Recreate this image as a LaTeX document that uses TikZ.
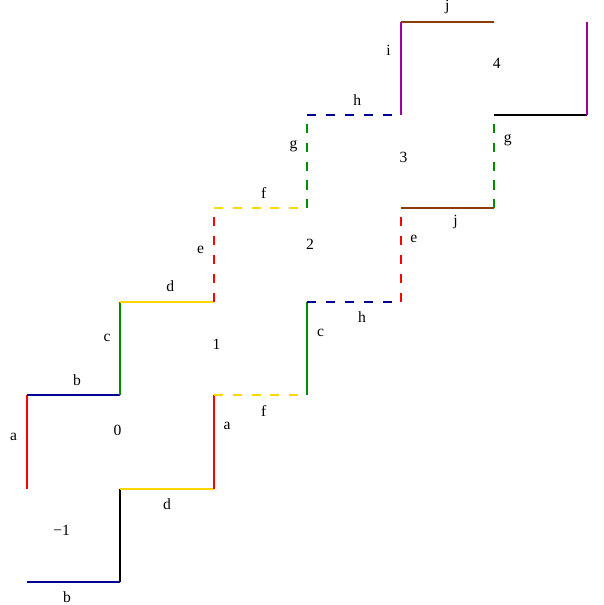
\documentclass[tikz,border=0pt]{standalone}
\usepackage{fontspec}
\setmainfont{Liberation Serif}
\usetikzlibrary{positioning}
\definecolor{edgered}{RGB}{255,0,0}
\definecolor{edgeblue}{RGB}{0,0,150}
\definecolor{edgegreen}{RGB}{0,140,0}
\definecolor{edgeyellow}{RGB}{255,215,0}
\definecolor{edgebrown}{RGB}{140,60,10}
\definecolor{edgepurple}{RGB}{160,0,160}
\begin{document}
\begin{tikzpicture}[x=2cm, y=2cm,
    font=\fontsize{9.5}{11}\selectfont,
    seg/.style={line width=1.2pt},
    gap/.style={seg, dash pattern=on 5.5pt off 6pt},
    lbl/.style={text=black, inner sep=0pt, outer sep=6pt},
    region/.style={inner sep=0pt},
  ]
    \useasboundingbox (-0.289,-0.246) rectangle (6.167,6.231);

    % grid points
    \foreach \i in {0,...,6}
      \foreach \j in {0,...,6}
        \coordinate (p\i\j) at (\i,\j);

    % lower staircase
    \draw[seg,edgeblue]   (p00) -- (p10) node[lbl,midway,below,xshift=-4pt]{b};
    \draw[seg,black]      (p10) -- (p11);
    \draw[seg,edgeyellow] (p11) -- (p21) node[lbl,midway,below]{d};
    \draw[seg,edgered]    (p21) -- (p22) node[lbl,pos=0.67,right]{a};
    \draw[gap,edgeyellow] (p22) -- (p32) node[lbl,midway,below,xshift=2pt]{f};
    \draw[seg,edgegreen]  (p32) -- (p33) node[lbl,pos=0.67,right]{c};
    \draw[gap,edgeblue]   (p33) -- (p43) node[lbl,midway,below,xshift=5pt]{h};
    \draw[gap,edgered]    (p43) -- (p44) node[lbl,pos=0.67,right]{e};
    \draw[seg,edgebrown]  (p44) -- (p54) node[lbl,midway,below,xshift=5pt,outer sep=4pt]{j};
    \draw[gap,edgegreen]  (p54) -- (p55) node[lbl,pos=0.73,right]{g};
    \draw[seg,black]      (p55) -- (p65);
    \draw[seg,edgepurple] (p65) -- (p66);

    % upper staircase
    \draw[seg,edgered]    (p01) -- (p02) node[lbl,pos=0.55,left]{a};
    \draw[seg,edgeblue]   (p02) -- (p12) node[lbl,midway,above,xshift=2pt]{b};
    \draw[seg,edgegreen]  (p12) -- (p13) node[lbl,pos=0.61,left]{c};
    \draw[seg,edgeyellow] (p13) -- (p23) node[lbl,midway,above,xshift=2pt]{d};
    \draw[gap,edgered]    (p23) -- (p24) node[lbl,pos=0.56,left]{e};
    \draw[gap,edgeyellow] (p24) -- (p34) node[lbl,midway,above,xshift=2pt]{f};
    \draw[gap,edgegreen]  (p34) -- (p35) node[lbl,pos=0.67,left]{g};
    \draw[gap,edgeblue]   (p35) -- (p45) node[lbl,midway,above,xshift=2pt]{h};
    \draw[seg,edgepurple] (p45) -- (p46) node[lbl,pos=0.69,left]{i};
    \draw[seg,edgebrown]  (p46) -- (p56) node[lbl,midway,above,outer sep=5pt]{j};

    % regions
    \node[region] (rm1) at (0.37,0.55) {−1};
    \node[region] (r0)  at (0.97,1.62) {0};
    \node[region] (r1)  at (2.03,2.54) {1};
    \node[region] (r2)  at (3.03,3.62) {2};
    \node[region] (r3)  at (4.03,4.55) {3};
    \node[region] (r4)  at (5.03,5.55) {4};
\end{tikzpicture}
\end{document}
